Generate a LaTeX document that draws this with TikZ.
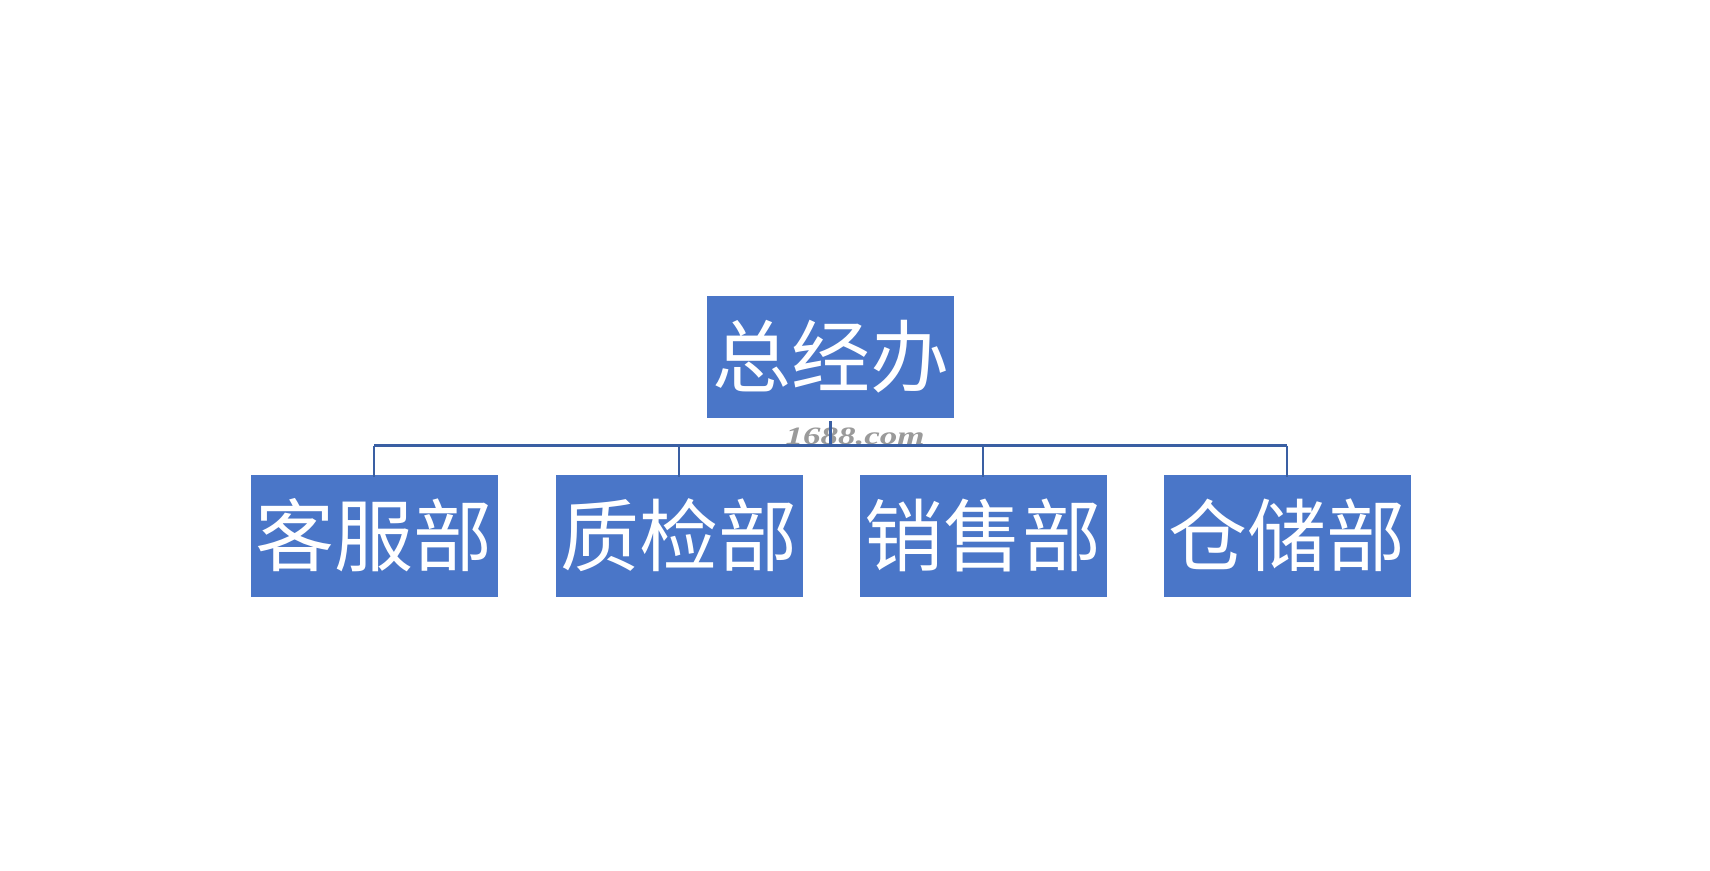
\documentclass[tikz,border=0pt]{standalone}
\usepackage{fontspec}
\newfontfamily\cjk{Noto Sans CJK SC}
\newfontfamily\wmfont{Liberation Serif}
\definecolor{boxblue}{HTML}{4A76C8}
\definecolor{lineblue}{HTML}{3A5FA3}
\definecolor{wmgray}{HTML}{9A9A9A}
\begin{document}
\begin{tikzpicture}[x=1pt,y=-1pt,
  orgbox/.style={fill=boxblue, draw=none, minimum width=247pt, minimum height=122pt,
    inner sep=0pt, text=white, font=\cjk\fontsize{79}{79}\selectfont},
  conn/.style={draw=lineblue, line width=2.6pt}]
\useasboundingbox[fill=white] (0,0) rectangle (1710,870);
\node[orgbox] (top) at (830.5,356.5) {总经办};
\node[orgbox] (kf) at (374,535.5) {客服部};
\node[orgbox] (zj) at (679,535.5) {质检部};
\node[orgbox] (xs) at (983,535.5) {销售部};
\node[orgbox] (cc) at (1287,535.5) {仓储部};
\coordinate (bus) at (830.5,445.5);
\coordinate (stemtop) at (830.5,421);
\node[text=wmgray, font=\wmfont\itshape\bfseries\fontsize{25}{25}\selectfont, xscale=1.4, inner sep=0pt, anchor=base] (wm) at (855,444) {1688.com};
\draw[conn] (stemtop) -- (bus);
\draw[conn] (kf.north |- bus) -- (cc.north |- bus);
\draw[conn] (kf.north |- bus) -- ([yshift=-3pt]kf.north);
\draw[conn] (zj.north |- bus) -- ([yshift=-3pt]zj.north);
\draw[conn] (xs.north |- bus) -- ([yshift=-3pt]xs.north);
\draw[conn] (cc.north |- bus) -- ([yshift=-3pt]cc.north);
\end{tikzpicture}
\end{document}
